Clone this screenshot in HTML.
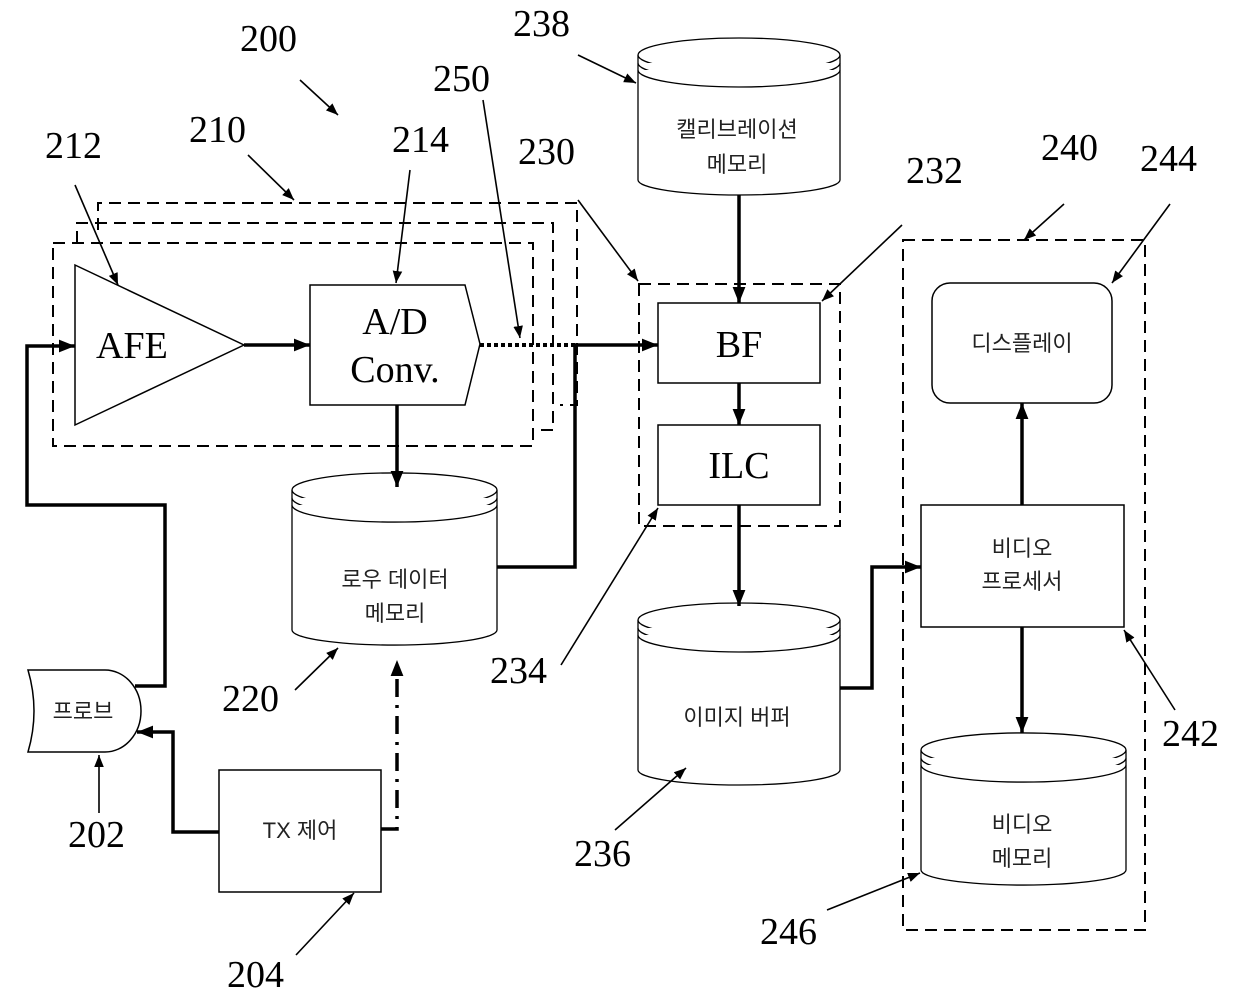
<!DOCTYPE html>
<html><head><meta charset="utf-8"><style>
html,body{margin:0;padding:0;background:#fff;}
svg{display:block;}
.n{font-family:"Liberation Serif",serif;font-size:38px;fill:#000;}
.k{font-family:"Liberation Sans","Noto Sans CJK KR",sans-serif;font-size:22px;fill:#222;}
.b{font-family:"Liberation Serif",serif;font-size:38px;fill:#000;}
</style></head><body>
<svg width="1240" height="997" viewBox="0 0 1240 997" xmlns="http://www.w3.org/2000/svg">
<defs>
<marker id="a" viewBox="0 0 10 10" refX="10" refY="5" markerWidth="12" markerHeight="12" markerUnits="userSpaceOnUse" orient="auto"><path d="M0,1 L10,5 L0,9 Z" fill="#000"/></marker>
<marker id="A" viewBox="0 0 10 10" refX="10" refY="5" markerWidth="16" markerHeight="16" markerUnits="userSpaceOnUse" orient="auto"><path d="M0,1 L10,5 L0,9 Z" fill="#000"/></marker>
</defs>
<g fill="none" stroke="#000">
<g stroke-width="2" stroke-dasharray="12,7">
<path d="M98,230 V203 H577 V405 H560"/>
<path d="M77,243 V223 H553 V430 H540"/>
<rect x="53" y="243" width="480" height="203"/>
<rect x="639" y="284" width="201" height="242"/>
<rect x="903" y="240" width="242" height="690"/>
</g>
<path d="M75,265 L244,345 L75,425 Z" stroke-width="1.5" fill="#fff"/>
<path d="M310,285 H465 L480,344 L465,405 H310 Z" stroke-width="1.5" fill="#fff"/>
<rect x="658" y="303" width="162" height="80" stroke-width="1.5" fill="#fff"/>
<rect x="658" y="425" width="162" height="80" stroke-width="1.5" fill="#fff"/>
<rect x="932" y="283" width="180" height="120" rx="18" stroke-width="1.5"/>
<rect x="921" y="505" width="203" height="122" stroke-width="1.5"/>
<rect x="219" y="770" width="162" height="122" stroke-width="1.5"/>
<path d="M28,670 H105 A36,41 0 0 1 105,752 H28 Q40,711 28,670 Z" stroke-width="1.5"/>
<g stroke-width="1.3" fill="#fff">
<path d="M638,55 A101,17 0 0 1 840,55 V180 A101,15 0 0 1 638,180 Z"/>
<path d="M638,55 A101,17 0 0 0 840,55"/><path d="M638,63 A101,17 0 0 0 840,63"/><path d="M638,70 A101,17 0 0 0 840,70"/>
<path d="M292,490 A102,17 0 0 1 497,490 V630 A102,15 0 0 1 292,630 Z"/>
<path d="M292,490 A102,17 0 0 0 497,490"/><path d="M292,498 A102,17 0 0 0 497,498"/><path d="M292,505 A102,17 0 0 0 497,505"/>
<path d="M638,620 A101,17 0 0 1 840,620 V770 A101,15 0 0 1 638,770 Z"/>
<path d="M638,620 A101,17 0 0 0 840,620"/><path d="M638,628 A101,17 0 0 0 840,628"/><path d="M638,635 A101,17 0 0 0 840,635"/>
<path d="M921,750 A102,17 0 0 1 1126,750 V870 A102,15 0 0 1 921,870 Z"/>
<path d="M921,750 A102,17 0 0 0 1126,750"/><path d="M921,758 A102,17 0 0 0 1126,758"/><path d="M921,765 A102,17 0 0 0 1126,765"/>
</g>
<g stroke-width="3.5">
<path d="M244,345 H310" marker-end="url(#A)"/>
<path d="M135,686 H165 V505 H27 V346 H75" marker-end="url(#A)"/>
<path d="M219,832 H173 V732 H137" marker-end="url(#A)"/>
<path d="M397,405 V487" marker-end="url(#A)"/>
<path d="M497,567 H575 V345 H658" marker-end="url(#A)"/>
<path d="M739,195 V303" marker-end="url(#A)"/>
<path d="M739,383 V425" marker-end="url(#A)"/>
<path d="M739,505 V606" marker-end="url(#A)"/>
<path d="M840,688 H872 V567 H921" marker-end="url(#A)"/>
<path d="M1022,505 V403" marker-end="url(#A)"/>
<path d="M1022,627 V733" marker-end="url(#A)"/>
<path d="M381,829 H397 V660" stroke-dasharray="18,8,3,8" marker-end="url(#A)"/>
</g>
<path d="M480,345 H575" stroke-width="4" stroke-dasharray="4,3"/>
<g stroke-width="1.6">
<path d="M75,185 L118,285" marker-end="url(#a)"/>
<path d="M248,155 L294,200" marker-end="url(#a)"/>
<path d="M300,80 L338,115" marker-end="url(#a)"/>
<path d="M410,170 L396,283" marker-end="url(#a)"/>
<path d="M483,100 L520,338" marker-end="url(#a)"/>
<path d="M578,55 L636,83" marker-end="url(#a)"/>
<path d="M578,200 L638,281" marker-end="url(#a)"/>
<path d="M902,225 L822,301" marker-end="url(#a)"/>
<path d="M1064,204 L1024,240" marker-end="url(#a)"/>
<path d="M1170,204 L1112,283" marker-end="url(#a)"/>
<path d="M561,665 L658,508" marker-end="url(#a)"/>
<path d="M1175,710 L1124,630" marker-end="url(#a)"/>
<path d="M827,910 L920,873" marker-end="url(#a)"/>
<path d="M295,690 L338,648" marker-end="url(#a)"/>
<path d="M99,813 L99,755" marker-end="url(#a)"/>
<path d="M296,955 L354,893" marker-end="url(#a)"/>
<path d="M615,830 L686,768" marker-end="url(#a)"/>
</g>
</g>
<g class="n">
<text x="240" y="51">200</text>
<text x="513" y="36">238</text>
<text x="433" y="91">250</text>
<text x="189" y="142">210</text>
<text x="45" y="158">212</text>
<text x="392" y="152">214</text>
<text x="518" y="164">230</text>
<text x="906" y="183">232</text>
<text x="1041" y="160">240</text>
<text x="1140" y="171">244</text>
<text x="222" y="711">220</text>
<text x="490" y="683">234</text>
<text x="1162" y="746">242</text>
<text x="68" y="847">202</text>
<text x="574" y="866">236</text>
<text x="760" y="944">246</text>
<text x="227" y="987">204</text>
</g>
<g class="b">
<text x="96" y="358">AFE</text>
<text x="395" y="334" text-anchor="middle">A/D</text>
<text x="395" y="382" text-anchor="middle">Conv.</text>
<text x="739" y="357" text-anchor="middle">BF</text>
<text x="739" y="478" text-anchor="middle">ILC</text>
</g>
<g class="k" text-anchor="middle">
<text x="737" y="137">캘리브레이션</text>
<text x="737" y="172">메모리</text>
<text x="395" y="587">로우 데이터</text>
<text x="395" y="621">메모리</text>
<text x="737" y="725">이미지 버퍼</text>
<text x="1022" y="351">디스플레이</text>
<text x="1022" y="556">비디오</text>
<text x="1022" y="589">프로세서</text>
<text x="1022" y="832">비디오</text>
<text x="1022" y="866">메모리</text>
<text x="83" y="719">프로브</text>
<text x="300" y="838">TX 제어</text>
</g>
</svg>
</body></html>
